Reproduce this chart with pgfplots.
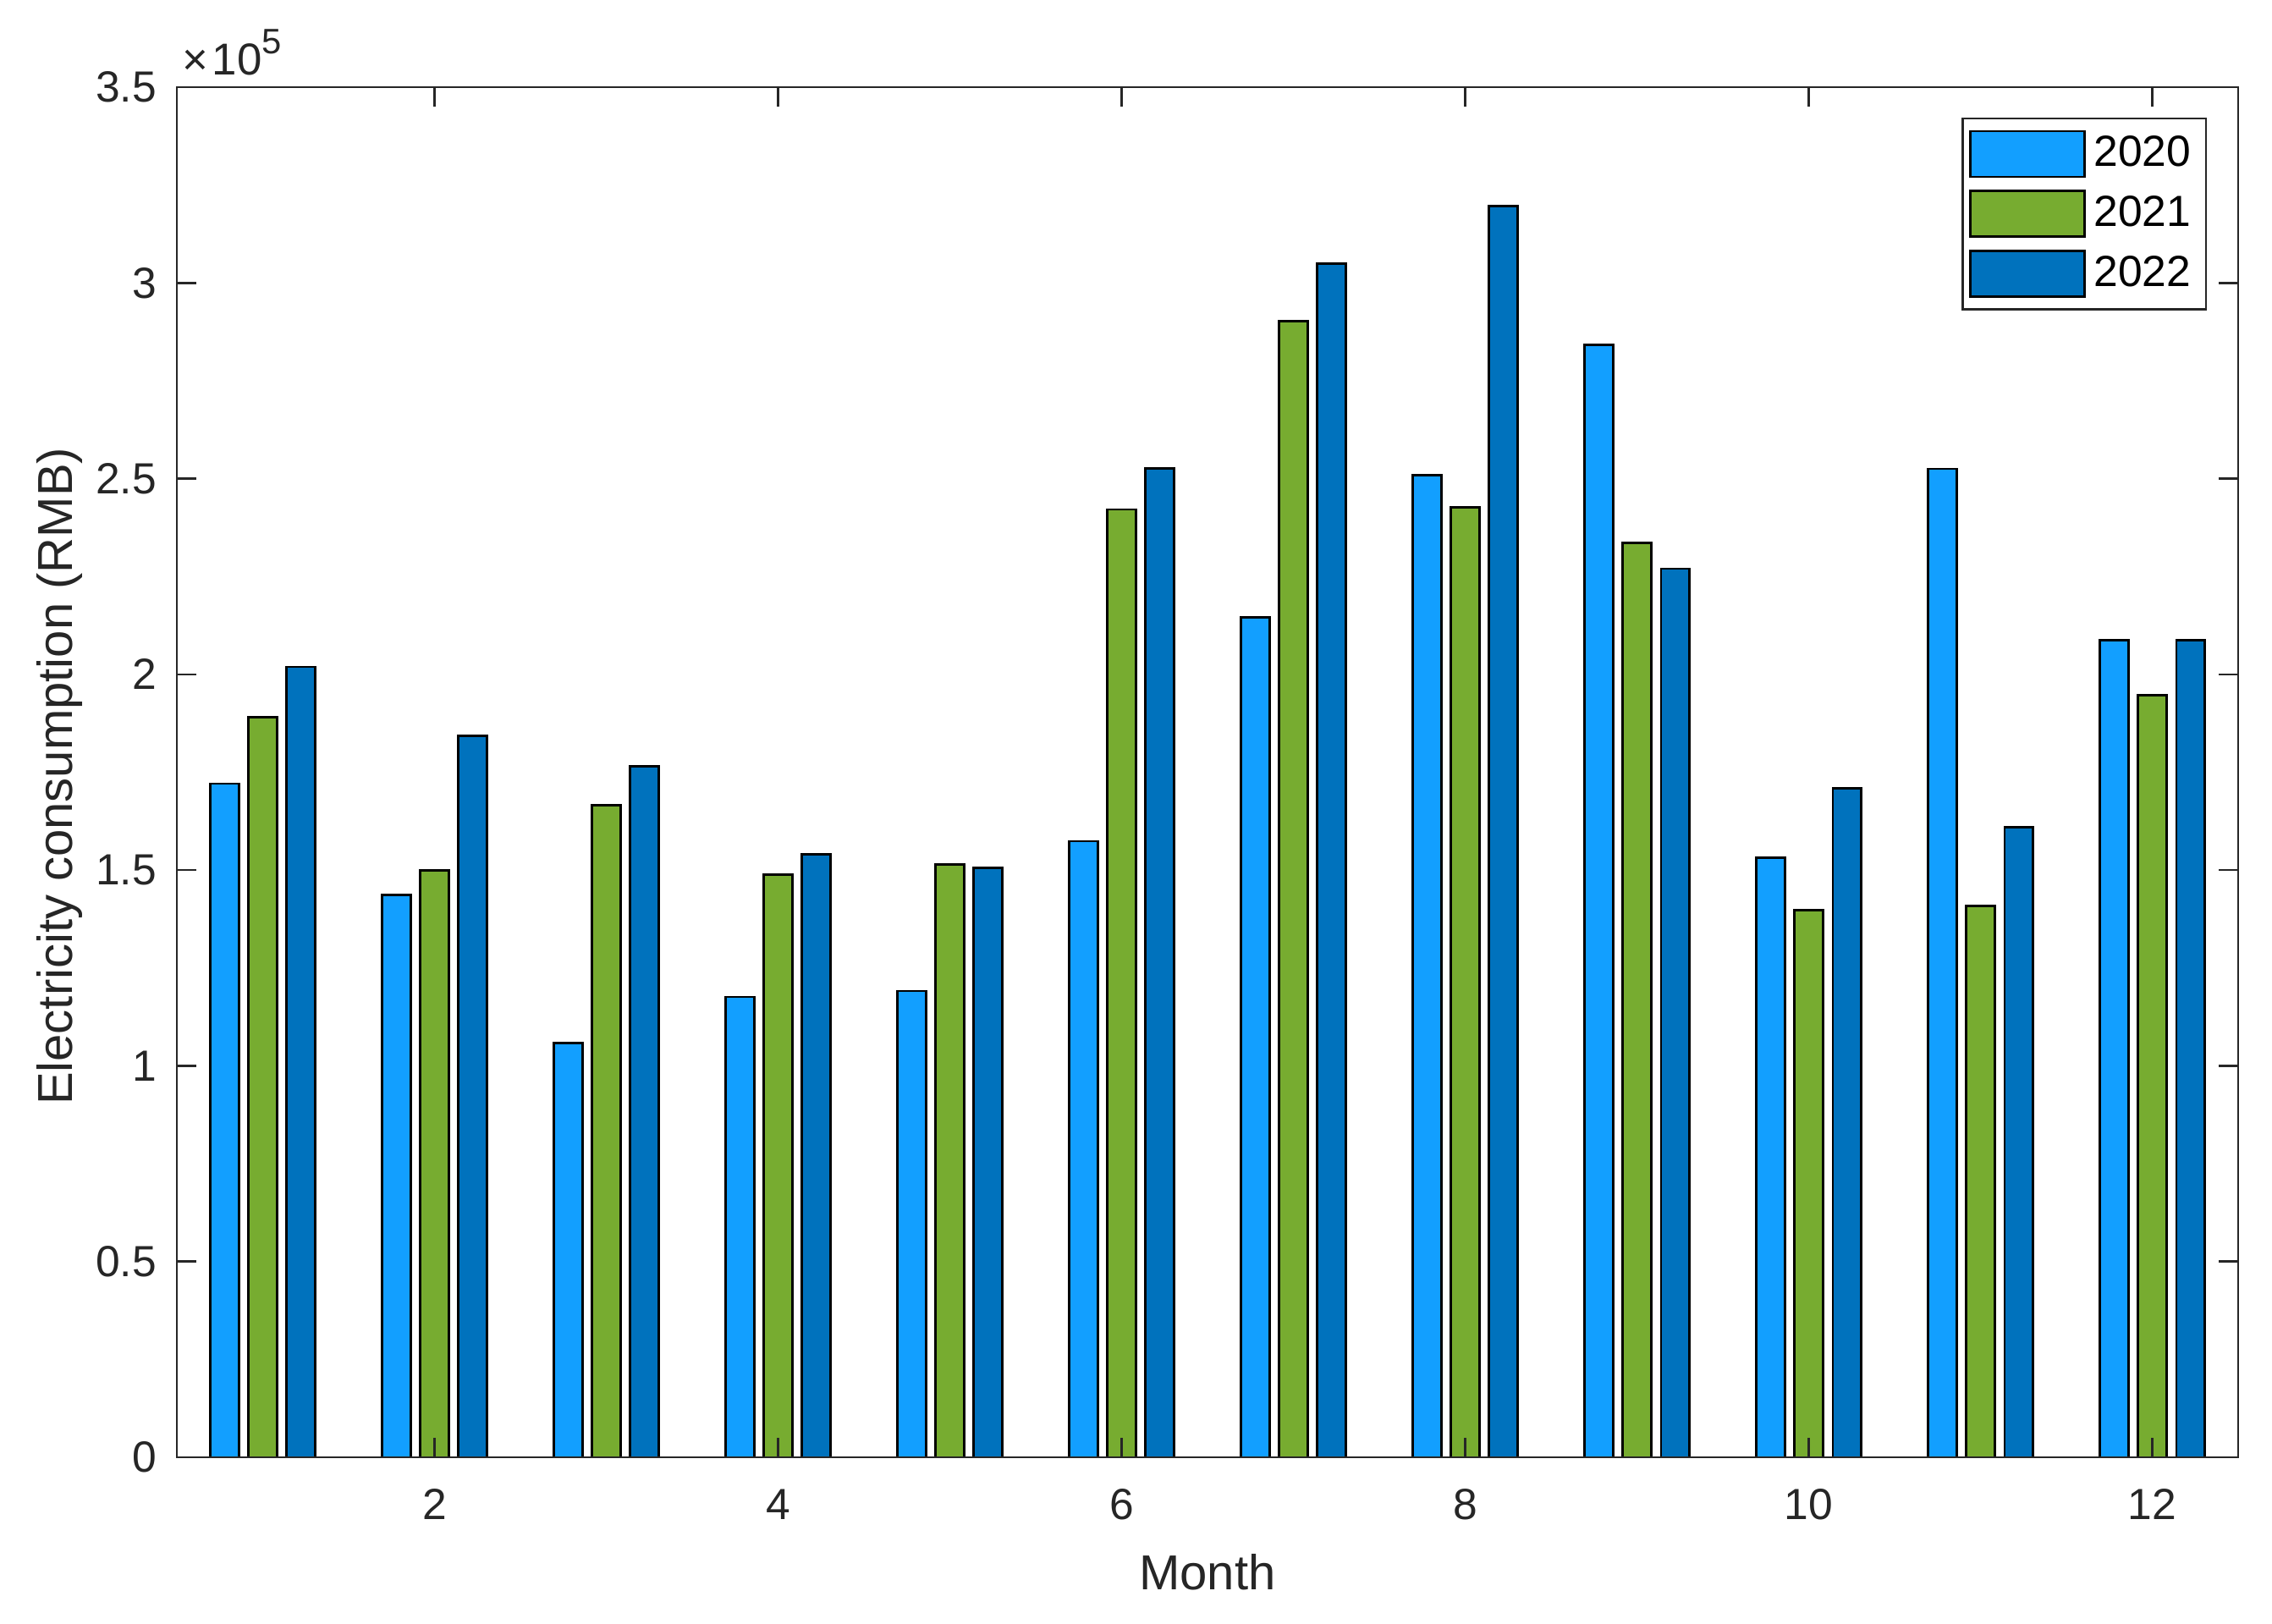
\documentclass[border=0pt]{standalone}
\usepackage{fontspec}
\setmainfont{Liberation Sans}
\usepackage{pgfplots}
\pgfplotsset{compat=1.18}
\definecolor{c20}{HTML}{129FFF}
\definecolor{c21}{HTML}{77AC30}
\definecolor{c22}{HTML}{0072BD}
\definecolor{axgray}{HTML}{262626}
\begin{document}
\begin{tikzpicture}
\path[use as bounding box] (-41.8bp,-39.4bp) rectangle (495.2bp,344.4bp);
\begin{axis}[
  scale only axis, width=487.2bp, height=323.8bp,
  at={(0,0)}, anchor=south west,
  xmin=0.5, xmax=12.5, ymin=0, ymax=350000,
  xtick={2,4,6,8,10,12}, xticklabels={2,4,6,8,10,12},
  ytick={0,50000,100000,150000,200000,250000,300000,350000},
  yticklabels={0,0.5,1,1.5,2,2.5,3,3.5},
  scaled y ticks=false,
  tick align=inside, major tick length=4.6bp,
  axis line style={axgray, line width=0.5bp},
  every tick/.style={axgray, line width=0.5bp},
  tick label style={font=\fontsize{10.35}{12}\selectfont, text=axgray},
  xticklabel style={yshift=-4bp},
  yticklabel style={xshift=-1.3bp},
  xlabel={Month}, ylabel={Electricity consumption (RMB)},
  label style={font=\fontsize{11.65}{13}\selectfont, text=axgray},
  xlabel style={at={(axis description cs:0.5,0)}, anchor=center, yshift=-27.2bp},
  ylabel style={at={([xshift=-24.8bp]axis description cs:0,0.497)}, anchor=base},
  axis on top=true,
  clip mode=individual,
  legend style={at={(1,1)}, anchor=north east, xshift=-7.4bp, yshift=-7.2bp,
    draw=axgray, line width=0.5bp, font=\fontsize{10.35}{12}\selectfont,
    row sep=1.5bp, inner xsep=1.5bp, inner ysep=2bp},
  legend cell align=left,
  legend image code/.code={\draw[#1] (0bp,-5.4bp) rectangle (27bp,5.4bp);},
]
\addplot[ybar, bar width=0.165, bar shift=-0.2222, fill=c20, draw=black, line width=0.55bp]
coordinates {(1,172100) (2,143600) (3,105800) (4,117600) (5,119100) (6,157400) (7,214500) (8,250800) (9,284100) (10,153100) (11,252500) (12,208800)};
\addlegendentry{2020}
\addplot[ybar, bar width=0.165, bar shift=0, fill=c21, draw=black, line width=0.55bp]
coordinates {(1,189000) (2,150000) (3,166500) (4,148800) (5,151400) (6,242100) (7,290200) (8,242600) (9,233600) (10,139700) (11,140900) (12,194600)};
\addlegendentry{2021}
\addplot[ybar, bar width=0.165, bar shift=0.2222, fill=c22, draw=black, line width=0.55bp]
coordinates {(1,201900) (2,184300) (3,176500) (4,154000) (5,150500) (6,252600) (7,305000) (8,319700) (9,227000) (10,170900) (11,160900) (12,208800)};
\addlegendentry{2022}
\node[anchor=base west, inner sep=0pt, font=\fontsize{10.6}{12}\selectfont, text=axgray, xshift=1.2bp, yshift=2.8bp] at (rel axis cs:0,1) {×\hspace{0.8bp}10\raisebox{5.2bp}{\fontsize{8.4}{9}\selectfont 5}};
\end{axis}
\end{tikzpicture}
\end{document}
